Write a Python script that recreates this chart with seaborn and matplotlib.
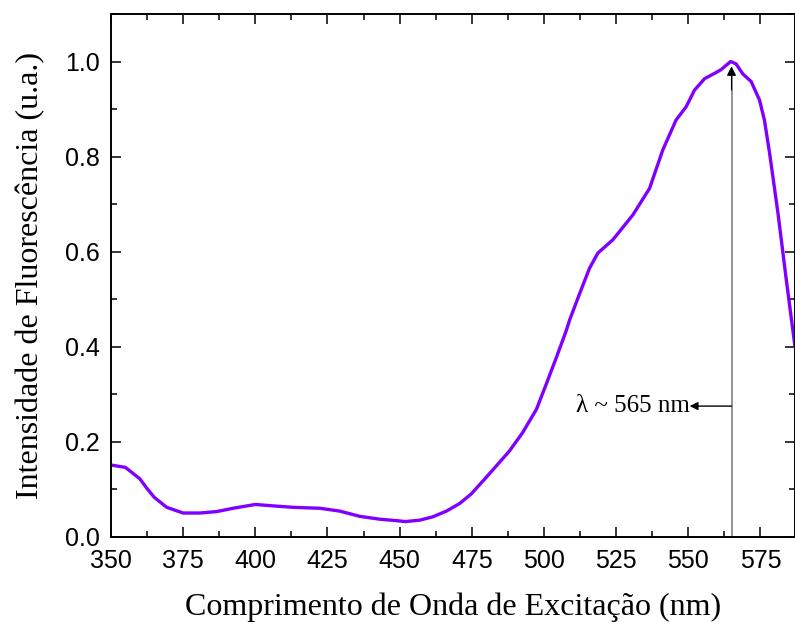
import numpy as np
import pandas as pd
import matplotlib.pyplot as plt
import seaborn as sns
from matplotlib.ticker import MultipleLocator

# excitation spectrum
wavelength = [350, 355, 360, 362.3, 365, 369.3, 375, 380.8, 386.6, 392.3, 400,
              406.2, 413.1, 422.4, 429.3, 436.2, 443.1, 448.9, 452, 457, 461.5,
              466.2, 470.8, 474.8, 480, 488, 492.6, 497.4, 500.8, 504.3, 507.7,
              508.9, 512.4, 515.8, 518.7, 523.9, 530.8, 536.6, 541.2, 545.8,
              549.3, 552.2, 555.7, 559.7, 561.4, 564.7, 566.6, 568.9, 571.8,
              574.7, 576.4, 578.2, 581.1, 584, 587]
intensity = [0.151, 0.146, 0.122, 0.103, 0.083, 0.062, 0.050, 0.050, 0.053,
             0.060, 0.068, 0.065, 0.062, 0.060, 0.054, 0.043, 0.037, 0.034,
             0.032, 0.035, 0.042, 0.054, 0.070, 0.090, 0.125, 0.180, 0.219,
             0.268, 0.321, 0.377, 0.433, 0.456, 0.512, 0.565, 0.597, 0.625,
             0.677, 0.733, 0.814, 0.877, 0.905, 0.940, 0.964, 0.977, 0.983,
             1.000, 0.995, 0.974, 0.958, 0.919, 0.877, 0.807, 0.681, 0.540,
             0.400]

peak_nm = 565
peak_label = "λ ~ 565 nm"
label_y = 0.275
label_end = 550.5

df = pd.DataFrame({"wavelength": wavelength, "intensity": intensity})

sns.set_style("ticks")
plt.rcParams["font.family"] = ["Liberation Sans", "DejaVu Sans"]
plt.rcParams["xtick.direction"] = "in"
plt.rcParams["ytick.direction"] = "in"
plt.rcParams["xtick.color"] = "black"
plt.rcParams["ytick.color"] = "black"
plt.rcParams["axes.edgecolor"] = "black"
plt.rcParams["axes.labelcolor"] = "black"
plt.rcParams["text.color"] = "black"

fig = plt.figure(figsize=(7.95, 6.22), dpi=100)
ax = fig.add_axes([0.1396, 0.137, 0.8604, 0.8405])

sns.lineplot(data=df, x="wavelength", y="intensity", color="#7f00ff",
             linewidth=2.4, ax=ax)

# marker of the maximum: grey shaft, black head
ax.plot([peak_nm, peak_nm], [0, 0.975], color="#808080", lw=1.2)
ax.annotate("", xy=(peak_nm, 0.99), xytext=(peak_nm, 0.94),
            arrowprops=dict(arrowstyle="-|>", color="black", lw=0.8,
                            shrinkA=0, shrinkB=0, mutation_scale=14))
ax.annotate("", xy=(label_end, label_y), xytext=(peak_nm, label_y),
            arrowprops=dict(arrowstyle="-|>", color="black", lw=1,
                            shrinkA=0, shrinkB=0, mutation_scale=12))
ax.text(label_end, label_y, peak_label, ha="right", va="center",
        fontsize=18, family=["Liberation Serif", "DejaVu Serif"])

ax.set_xlim(350, 587)
ax.set_ylim(0, 1.1)
ax.xaxis.set_major_locator(MultipleLocator(25))
ax.xaxis.set_minor_locator(MultipleLocator(12.5))
ax.yaxis.set_major_locator(MultipleLocator(0.2))
ax.yaxis.set_minor_locator(MultipleLocator(0.1))
ax.tick_params(which="both", top=True, right=True, width=1.1, labelsize=18)
ax.tick_params(which="major", length=7)
ax.tick_params(which="minor", length=4)
ax.tick_params(axis="x", which="major", pad=9)
ax.tick_params(axis="y", which="major", pad=8)
for s in ax.spines.values():
    s.set_linewidth(1.4)

ax.set_xlabel("Comprimento de Onda de Excitação (nm)", fontsize=23,
              family=["Liberation Serif", "DejaVu Serif"], labelpad=14)
ax.set_ylabel("Intensidade de Fluorescência (u.a.)", fontsize=23,
              family=["Liberation Serif", "DejaVu Serif"], labelpad=14)

fig.savefig("out.png", dpi=100)
